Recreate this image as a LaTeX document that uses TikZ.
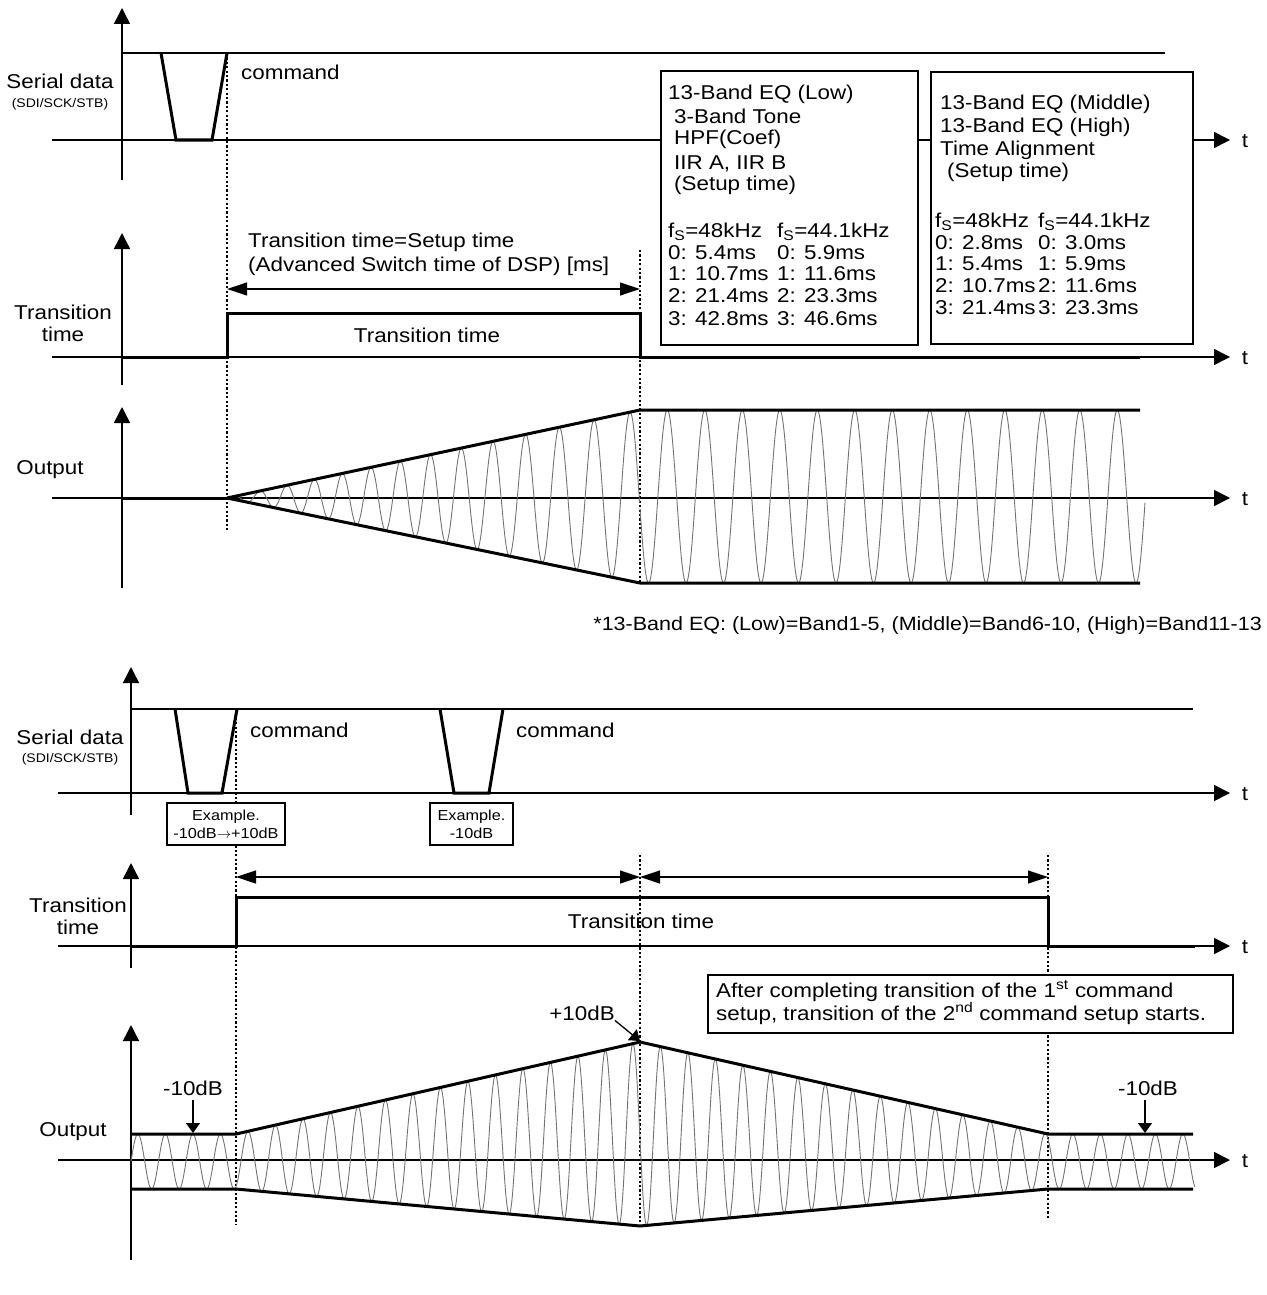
\documentclass[tikz,border=0pt]{standalone}
\usepackage{fontspec}
\setmainfont{Liberation Sans}[FakeStretch=1.12]
\usetikzlibrary{arrows.meta}
\begin{document}
\begin{tikzpicture}[x=1pt,y=-1pt,
  axis/.style={line width=1.5pt},
  axarr/.style={axis,-{Triangle[length=16pt,width=16pt]}},
  hiline/.style={line width=2.4pt},
  trap/.style={line width=3pt,line join=miter},
  sig/.style={line width=3pt,line join=miter},
  dotl/.style={line width=1.4pt,dash pattern=on 2.2pt off 2.2pt},
  wave/.style={black!55,line width=0.9pt},
  dimarr/.style={line width=1.2pt,{Triangle[length=20pt,width=13pt]}-{Triangle[length=20pt,width=13pt]}},
  ptr/.style={line width=1.3pt,-{Triangle[length=10pt,width=14pt]}},
  box/.style={draw,line width=1.5pt,fill=white},
  lbl/.style={inner sep=0pt,font=\fontsize{20}{22.6}\selectfont},
  fnl/.style={inner sep=0pt,font=\fontsize{19.2}{22}\selectfont},
  sml/.style={inner sep=0pt,font=\fontsize{12.5}{14}\selectfont},
  exl/.style={inner sep=0pt,font=\fontsize{14.5}{16}\selectfont},
]
\useasboundingbox (0,0) rectangle (1266,1295);

% ================= TOP: serial data
\draw[axarr] (122,180) -- (122,8);
\draw[axarr] (52,140) -- (1230,140);
\draw[hiline] (122,53) -- (1165,53);
\draw[trap] (161,53) -- (176,140) -- (212,140) -- (227,53);
\draw[dotl] (227,53) -- (227,532);
\node[lbl,anchor=base] (sd1) at (60,89) {Serial data};
\node[sml,anchor=base] (sd1s) at (60,108) {(SDI/SCK/STB)};
\node[lbl,anchor=base west] (cmd1) at (241,80) {command};
\node[lbl,anchor=base] (t1) at (1245,147) {t};

% boxes
\draw[box] (661,71) rectangle (918,345);
\draw[box] (931,72) rectangle (1193,344);
\node[lbl,anchor=base west] (b1a) at (668,100) {13-Band EQ (Low)};
\node[lbl,anchor=base west] (b1b) at (674,124) {3-Band Tone};
\node[lbl,anchor=base west] (b1c) at (674,145) {HPF(Coef)};
\node[lbl,anchor=base west] (b1d) at (674,169) {IIR A, IIR B};
\node[lbl,anchor=base west] (b1e) at (674,190) {(Setup time)};
\node[lbl,anchor=base west] (b1f) at (668,237) {f\textsubscript{S}=48kHz};
\node[lbl,anchor=base west] (b1g) at (777,237) {f\textsubscript{S}=44.1kHz};
\node[lbl,anchor=base west] (b1h) at (668,259) {0: 5.4ms};
\node[lbl,anchor=base west] (b1i) at (777,259) {0: 5.9ms};
\node[lbl,anchor=base west] (b1j) at (668,280) {1: 10.7ms};
\node[lbl,anchor=base west] (b1k) at (777,280) {1: 11.6ms};
\node[lbl,anchor=base west] (b1l) at (668,302) {2: 21.4ms};
\node[lbl,anchor=base west] (b1m) at (777,302) {2: 23.3ms};
\node[lbl,anchor=base west] (b1n) at (668,325) {3: 42.8ms};
\node[lbl,anchor=base west] (b1o) at (777,325) {3: 46.6ms};

\node[lbl,anchor=base west] (b2a) at (940,110) {13-Band EQ (Middle)};
\node[lbl,anchor=base west] (b2b) at (940,132) {13-Band EQ (High)};
\node[lbl,anchor=base west] (b2c) at (940,155) {Time Alignment};
\node[lbl,anchor=base west] (b2d) at (947,177) {(Setup time)};
\node[lbl,anchor=base west] (b2f) at (935,227) {f\textsubscript{S}=48kHz};
\node[lbl,anchor=base west] (b2g) at (1038,227) {f\textsubscript{S}=44.1kHz};
\node[lbl,anchor=base west] (b2h) at (935,249) {0: 2.8ms};
\node[lbl,anchor=base west] (b2i) at (1038,249) {0: 3.0ms};
\node[lbl,anchor=base west] (b2j) at (935,270) {1: 5.4ms};
\node[lbl,anchor=base west] (b2k) at (1038,270) {1: 5.9ms};
\node[lbl,anchor=base west] (b2l) at (935,292) {2: 10.7ms};
\node[lbl,anchor=base west] (b2m) at (1038,292) {2: 11.6ms};
\node[lbl,anchor=base west] (b2n) at (935,314) {3: 21.4ms};
\node[lbl,anchor=base west] (b2o) at (1038,314) {3: 23.3ms};

% ================= TOP: transition time
\draw[axarr] (122,385) -- (122,233);
\draw[axarr] (52,357) -- (1230,357);
\draw[sig] (122,357) -- (227,357) -- (227,313) -- (640,313) -- (640,357) -- (1140,357);
\draw[dotl] (640,250) -- (640,583);
\draw[dimarr] (227,289) -- (640,289);
\node[lbl,anchor=base west] (tt1) at (248,247) {Transition time=Setup time};
\node[lbl,anchor=base west] (tt2) at (248,271) {(Advanced Switch time of DSP) [ms]};
\node[lbl,anchor=base] (tt3) at (427,342) {Transition time};
\node[lbl,anchor=base] (tl1) at (63,319) {Transition};
\node[lbl,anchor=base] (tl2) at (63,341) {time};
\node[lbl,anchor=base] (t2) at (1245,364) {t};

% ================= TOP: output
\draw[axarr] (122,588) -- (122,407);
\draw[axarr] (52,498) -- (1230,498);
\draw[wave] plot[domain=0:1,samples=700,variable=\u]
  ({227+413*\u},{498-1.5*\u-86.5*\u*sin(5718*\u-850*\u*\u)});
\draw[wave] plot[domain=640:1145,samples=700,variable=\t]
  ({\t},{496.5-86.5*sin(4868+9.6*(\t-640))});
\draw[sig] (122,498) -- (227,498);
\draw[sig] (227,498) -- (640,410) -- (1140,410);
\draw[sig] (227,498) -- (640,583) -- (1140,583);
\node[lbl,anchor=base] (out1) at (50,474) {Output};
\node[lbl,anchor=base] (t3) at (1245,505) {t};

\node[fnl,anchor=base east] (fn) at (1262,630) {*13-Band EQ: (Low)=Band1-5, (Middle)=Band6-10, (High)=Band11-13};

% ================= BOTTOM: serial data
\draw[axarr] (131,815) -- (131,667);
\draw[axarr] (58,793) -- (1230,793);
\draw[hiline] (131,709) -- (1193,709);
\draw[trap] (175,709) -- (188,793) -- (222,793) -- (237,709);
\draw[trap] (440,709) -- (454,793) -- (489,793) -- (503,709);
\draw[dotl] (236,709) -- (236,1225);
\draw[box,line width=1.3pt] (167,803) rectangle (285,845);
\draw[box,line width=1.3pt] (430,803) rectangle (513,845);
\node[exl,anchor=base] (ex1a) at (226,820) {Example.};
\node[exl,anchor=base] (ex1b) at (226,838) {-10dB$\rightarrow$+10dB};
\node[exl,anchor=base] (ex2a) at (471.5,820) {Example.};
\node[exl,anchor=base] (ex2b) at (471.5,838) {-10dB};
\node[lbl,anchor=base] (sd2) at (70,744) {Serial data};
\node[sml,anchor=base] (sd2s) at (70,762) {(SDI/SCK/STB)};
\node[lbl,anchor=base west] (cmd2) at (250,737) {command};
\node[lbl,anchor=base west] (cmd3) at (516,737) {command};
\node[lbl,anchor=base] (t4) at (1245,800) {t};

% ================= BOTTOM: transition time
\draw[axarr] (131,968) -- (131,863);
\draw[axarr] (58,946) -- (1230,946);
\draw[sig] (131,946) -- (236,946) -- (236,897) -- (1048,897) -- (1048,946) -- (1195,946);
\draw[dotl] (640,855) -- (640,1225);
\draw[dotl] (1048,855) -- (1048,1220);
\draw[dimarr] (236,877) -- (640,877);
\draw[dimarr] (640,877) -- (1048,877);
\node[lbl,anchor=base] (tt4) at (641,928) {Transition time};
\node[lbl,anchor=base] (tl3) at (78,912) {Transition};
\node[lbl,anchor=base] (tl4) at (78,934) {time};
\node[lbl,anchor=base] (t5) at (1245,953) {t};

% ================= BOTTOM: output
\draw[axarr] (131,1260) -- (131,1025);
\draw[axarr] (58,1160) -- (1230,1160);
\draw[wave] plot[domain=0:1,samples=160,variable=\u]
  ({131+105*\u},{1161.5-27.5*sin(1374.5*\u)});
\draw[wave] plot[domain=0:1,samples=560,variable=\u]
  ({236+404*\u},{1161.5-27.5*\u-(27.5+64.5*\u)*sin(1374.5+5288.7*\u)});
\draw[wave] plot[domain=0:1,samples=560,variable=\u]
  ({640+408*\u},{1134+27.5*\u-(92-64.5*\u)*sin(6663.2+5341.1*\u)});
\draw[wave] plot[domain=0:1,samples=220,variable=\u]
  ({1048+147*\u},{1161.5-27.5*sin(12004.3+1924.4*\u)});
\draw[sig] (131,1134) -- (236,1134) -- (640,1042) -- (1048,1134) -- (1193,1134);
\draw[sig] (131,1189) -- (236,1189) -- (640,1226) -- (1048,1189) -- (1193,1189);
\node[lbl,anchor=base] (out2) at (73,1136) {Output};
\node[lbl,anchor=base] (t6) at (1245,1167) {t};

\node[lbl,anchor=base] (m10a) at (193,1095) {-10dB};
\coordinate (m10ap) at (193,1133);
\draw[ptr] (193,1100) -- (m10ap);
\node[lbl,anchor=base] (m10b) at (1148,1095) {-10dB};
\coordinate (m10bp) at (1145,1133);
\draw[ptr] (1145,1100) -- (m10bp);
\node[lbl,anchor=base] (p10) at (582,1020) {+10dB};
\coordinate (p10p) at (640,1041);
\draw[ptr] (p10.south east) -- (p10p);

\draw[box,line width=1.3pt] (708,975) rectangle (1233,1033);
\node[lbl,anchor=base west] (note1) at (716,997) {After completing transition of the 1\textsuperscript{st} command};
\node[lbl,anchor=base west] (note2) at (716,1020) {setup, transition of the 2\textsuperscript{nd} command setup starts.};
\end{tikzpicture}
\end{document}
